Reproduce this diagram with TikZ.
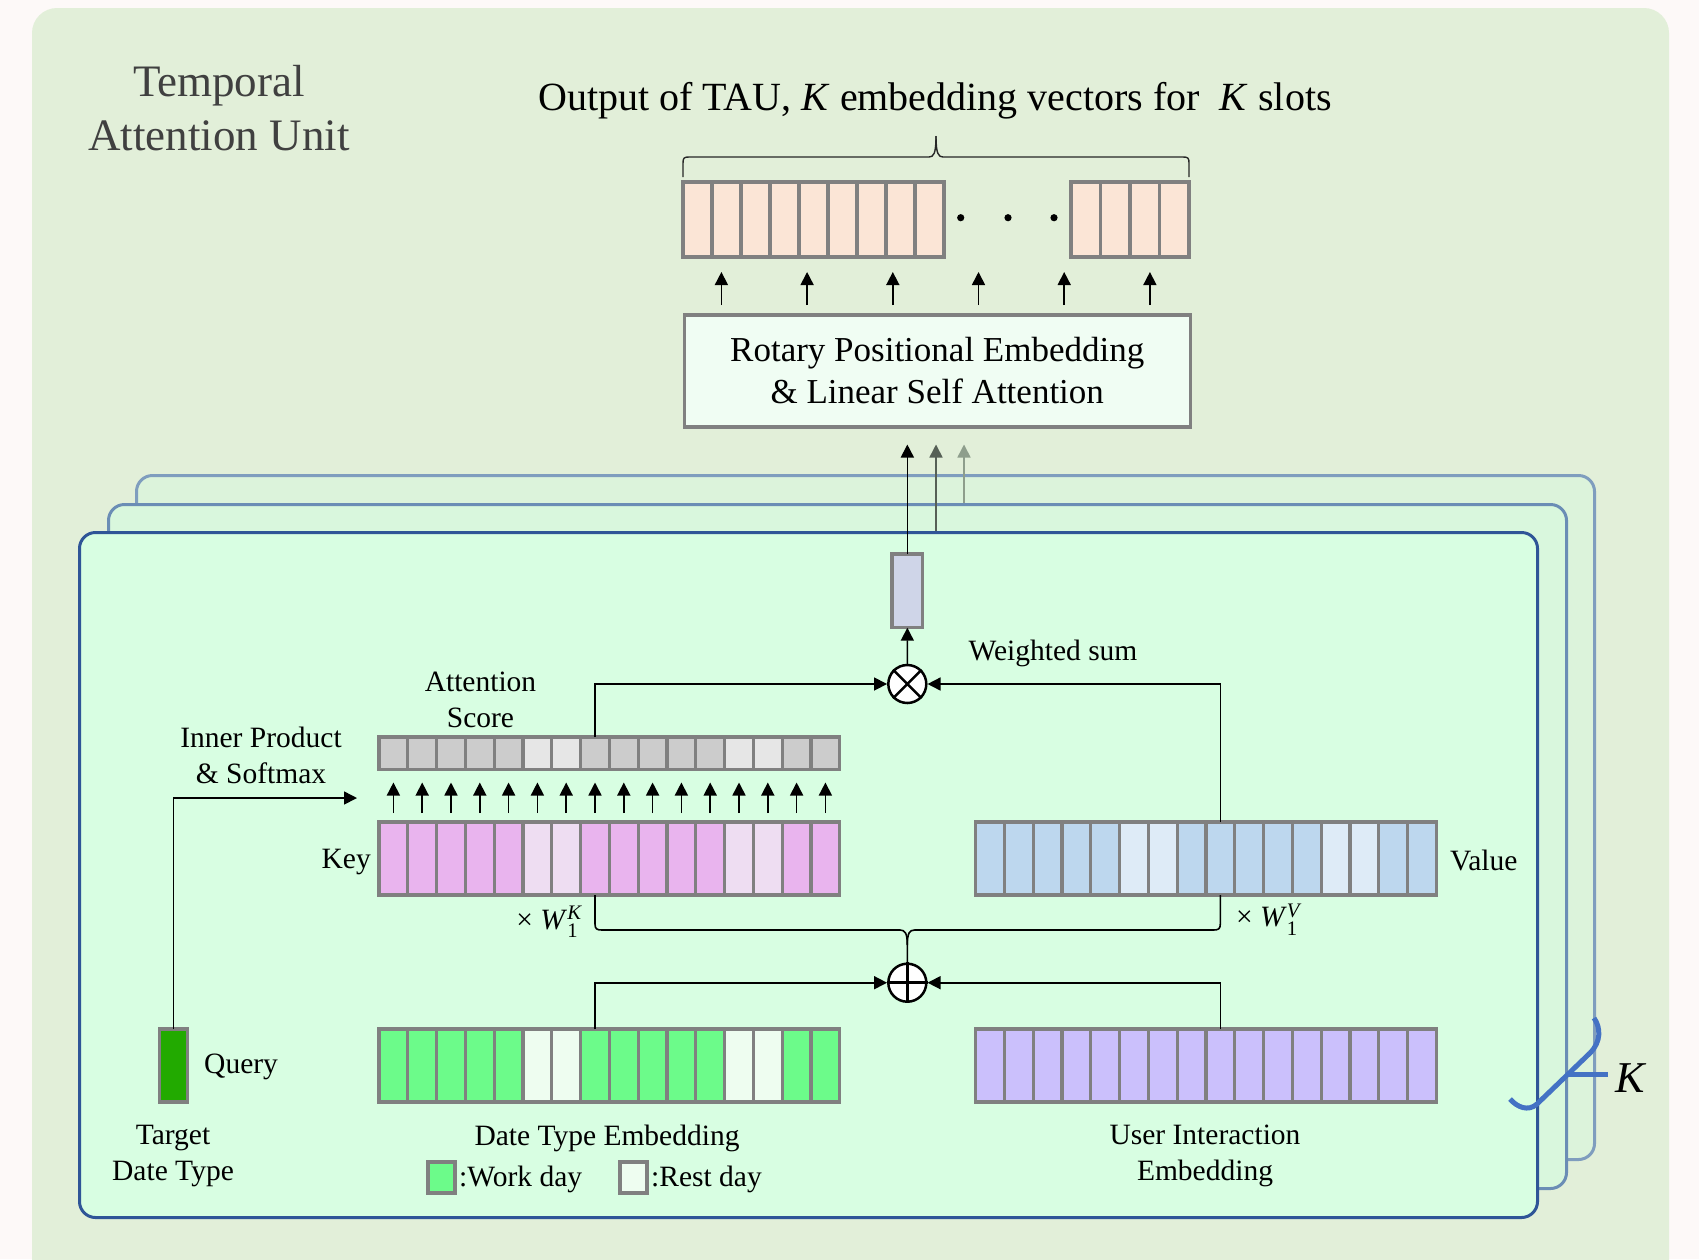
\documentclass[tikz,border=0pt]{standalone}
\usepackage{fontspec}
\usepackage{amsmath}
\setmainfont{Liberation Serif}
\usetikzlibrary{arrows.meta}

\definecolor{pagebg}{HTML}{FDF9F8}
\definecolor{panelbg}{HTML}{E2EFD9}
\definecolor{backfill}{HTML}{DCF3DB}
\definecolor{backdraw}{HTML}{7F9DBE}
\definecolor{midfill}{HTML}{D9F7DD}
\definecolor{middraw}{HTML}{6B8DB5}
\definecolor{frontfill}{HTML}{D8FEE2}
\definecolor{frontdraw}{HTML}{2F5597}
\definecolor{cellgray}{HTML}{808080}
\definecolor{peach}{HTML}{FBE5D6}
\definecolor{rotfill}{HTML}{F0FDF3}
\definecolor{sumfill}{HTML}{CFD5E8}
\definecolor{attA}{HTML}{CCCCCC}
\definecolor{attB}{HTML}{E6E6E6}
\definecolor{keyA}{HTML}{E9B4EE}
\definecolor{keyB}{HTML}{EEDDF2}
\definecolor{valA}{HTML}{BDD7EE}
\definecolor{valB}{HTML}{DEEBF7}
\definecolor{dateA}{HTML}{6CFB8A}
\definecolor{dateB}{HTML}{EEFDF0}
\definecolor{userA}{HTML}{CBC0FC}
\definecolor{queryg}{HTML}{22AA00}
\definecolor{kblue}{HTML}{4472C4}
\definecolor{arrowmid}{HTML}{566056}
\definecolor{arrowfar}{HTML}{8E9E8C}
\definecolor{titlegray}{HTML}{404040}

\newcommand\titlefont{\fontsize{45}{54}\selectfont}
\newcommand\outfont{\fontsize{40}{48}\selectfont}
\newcommand\rotfont{\fontsize{35}{42}\selectfont}
\newcommand\lblfont{\fontsize{29.5}{36}\selectfont}
\newcommand\kfont{\fontsize{44}{50}\selectfont}

\begin{document}
\begin{tikzpicture}[x=1pt,y=-1pt,
  cell/.style={draw=cellgray, line width=3.2pt, inner sep=0pt, outer sep=0pt, anchor=north west},
  arr/.style={line width=1.6pt, -{Triangle[length=13pt,width=13pt]}},
  conn/.style={line width=1.6pt},
  lbl/.style={inner sep=0pt, font=\lblfont, align=center},
  card/.style={rounded corners=16pt, line width=3pt, inner sep=0pt, anchor=north west},
  opnode/.style={circle, draw, fill=white, line width=2.5pt, minimum size=38pt, inner sep=0pt}]

\useasboundingbox (0,0) rectangle (1699,1259);
\clip (0,0) rectangle (1699,1259);
\fill[pagebg] (0,0) rectangle (1699,1259);
\fill[panelbg, rounded corners=25pt] (32,8) rectangle (1669,1290);

% heading
\node[inner sep=0pt, font=\titlefont, text=titlegray, align=center] (title) at (219,108) {Temporal\\Attention Unit};
\node[inner sep=0pt, font=\outfont] (outtxt) at (935,100.5) {Output of TAU, \textit{K} embedding vectors for\ \ \textit{K} slots};

% output embedding vectors
\foreach \i in {0,...,8}
  \node[cell, fill=peach, minimum width=29pt, minimum height=75pt] (oa-\i) at (683+\i*29,182) {};
\foreach \i in {0,...,3}
  \node[cell, fill=peach, minimum width=29.5pt, minimum height=75pt] (ob-\i) at (1071+\i*29.5,182) {};
\foreach \x in {960.7,1008,1054}
  \fill (\x,217.7) circle (3.6pt);

% brace over the output vectors
\draw[line width=1.4pt, black!85] (683,177) -- (683,163) .. controls (683,158) and (684,157) .. (689,157)
  -- (929,157) .. controls (933.5,157) and (936,154) .. (936,136);
\draw[line width=1.4pt, black!85] (1189,177) -- (1189,163) .. controls (1189,158) and (1188,157) .. (1183,157)
  -- (943,157) .. controls (938.5,157) and (936,154) .. (936,136);

% attention block
\node[draw=cellgray, line width=3.5pt, fill=rotfill, minimum width=506pt, minimum height=112pt,
      anchor=north west, align=center, font=\rotfont, inner sep=0pt] (rot) at (682.5,313)
      {Rotary Positional Embedding\\\& Linear Self Attention};
\foreach \d in {38.9,124.6,210.3,296.0,381.7,467.4}
  \draw[arr, shorten <=8pt, shorten >=15pt] ([xshift=\d]rot.north west) -- ([xshift=\d]rot.north west |- oa-0.south);

% stacked cards, one per slot
\node[card, draw=backdraw, fill=backfill, minimum width=1458pt, minimum height=684pt] (backcard) at (135,474) {};
\node[card, draw=middraw, fill=midfill, minimum width=1458pt, minimum height=684pt] (midcard) at (107,503) {};
\node[card, draw=frontdraw, fill=frontfill, minimum width=1458pt, minimum height=685pt] (frontcard) at (78,531) {};

\coordinate (in2) at (936,531);
\coordinate (in3) at (964,503);
\draw[arr, draw=arrowmid, fill=arrowmid, shorten >=16pt] (in2) -- (in2 |- rot.south);
\draw[arr, draw=arrowfar, fill=arrowfar, shorten >=16pt] (in3) -- (in3 |- rot.south);

% weighted-sum vector and its path upward
\node[cell, fill=sumfill, minimum width=30.7pt, minimum height=73.7pt] (wsum) at (892,554) {};
\draw[arr, shorten >=16pt] (wsum.north) -- (wsum.north |- rot.south);

\node[opnode] (ot) at (907.3,684) {};
\draw[line width=2.5pt] (ot.north west) -- (ot.south east) (ot.north east) -- (ot.south west);
\draw[arr] (ot.north) -- (wsum.south);

% attention score row
\foreach \c [count=\i from 0] in {attA,attA,attA,attA,attA,attB,attB,attA,attA,attA,attA,attA,attB,attB,attA,attA}
  \node[cell, fill=\c, minimum width=28.8pt, minimum height=32.5pt] (att-\i) at (379+\i*28.8,737) {};

% key row
\foreach \c [count=\i from 0] in {keyA,keyA,keyA,keyA,keyA,keyB,keyB,keyA,keyA,keyA,keyA,keyA,keyB,keyB,keyA,keyA}
  \node[cell, fill=\c, minimum width=28.8pt, minimum height=73pt] (key-\i) at (379+\i*28.8,822) {};
\foreach \i in {0,...,15}
  \draw[arr, shorten <=9pt, shorten >=13pt] (key-\i.north) -- (att-\i.south);

% value row
\foreach \c [count=\i from 0] in {valA,valA,valA,valA,valA,valB,valB,valA,valA,valA,valA,valA,valB,valB,valA,valA}
  \node[cell, fill=\c, minimum width=28.8pt, minimum height=73pt] (val-\i) at (975.5+\i*28.8,822) {};

\draw[arr] (att-7.north) |- (ot.west);
\draw[arr] (val-8.north) |- (ot.east);

% date type and user interaction rows
\foreach \c [count=\i from 0] in {dateA,dateA,dateA,dateA,dateA,dateB,dateB,dateA,dateA,dateA,dateA,dateA,dateB,dateB,dateA,dateA}
  \node[cell, fill=\c, minimum width=28.8pt, minimum height=73pt] (date-\i) at (379+\i*28.8,1029) {};
\foreach \i in {0,...,15}
  \node[cell, fill=userA, minimum width=28.8pt, minimum height=73pt] (user-\i) at (975.5+\i*28.8,1029) {};

\node[opnode] (op) at (907.3,982.7) {};
\draw[line width=2.5pt] (op.north) -- (op.south) (op.west) -- (op.east);
\draw[arr] (date-7.north) |- (op.west);
\draw[arr] (user-8.north) |- (op.east);

% projections of the sum into key and value
\draw[conn] (key-7.south) -- (595,924) .. controls (595,929) and (597,930) .. (602,930)
  -- (900,930) .. controls (905,930) and (907.3,933) .. (907.3,945) -- (op.north);
\draw[conn] (val-8.south) -- (1220.3,924) .. controls (1220.3,929) and (1218.3,930) .. (1213.3,930)
  -- (914.6,930) .. controls (909.6,930) and (907.3,933) .. (907.3,945);

% query
\node[cell, fill=queryg, minimum width=28pt, minimum height=73pt] (query) at (159.3,1029) {};
\coordinate (ipend) at (357,798);
\draw[arr] (query.north) |- (ipend);

% labels
\node[lbl] (attlbl) at (480.5,700) {Attention\\Score};
\node[lbl] (iplbl) at (261,755) {Inner Product\\\& Softmax};
\node[lbl, anchor=east] (keylbl) at (371,862) {Key};
\node[lbl, anchor=west] (vallbl) at (1450,860) {Value};
\node[lbl] (wslbl) at (1053,653) {Weighted sum};
\node[lbl] (wk) at (549,922) {× \textit{W}$_{\text{1}}^{\textit{K}}$};
\node[lbl] (wv) at (1268,920) {× \textit{W}$_{\text{1}}^{\textit{V}}$};
\node[lbl, anchor=west] (qlbl) at (204,1067) {Query};
\node[lbl] (tdt) at (173,1156) {Target\\Date Type};
\node[lbl] (dte) at (607,1138) {Date Type Embedding};
\node[lbl] (uie) at (1205,1156) {User Interaction\\Embedding};

% legend
\node[cell, fill=dateA, minimum width=27pt, minimum height=31pt] (lgw) at (428,1162) {};
\node[lbl, anchor=west] (lgwt) at ([xshift=4pt,yshift=-2pt]lgw.east) {:Work day};
\node[cell, fill=dateB, minimum width=27pt, minimum height=31pt] (lgr) at (620,1162) {};
\node[lbl, anchor=west] (lgrt) at ([xshift=4pt,yshift=-2pt]lgr.east) {:Rest day};

% slot count mark
\draw[kblue, line width=5pt] (1510,1099) .. controls (1517,1107) and (1528,1112) .. (1537,1104)
  -- (1590,1053) .. controls (1601,1042) and (1601,1028) .. (1594,1018);
\draw[kblue, line width=5pt] (1568,1074) -- (1608,1074);
\node[inner sep=0pt, font=\kfont] (klbl) at (1631,1078) {\textit{K}};
\end{tikzpicture}
\end{document}
